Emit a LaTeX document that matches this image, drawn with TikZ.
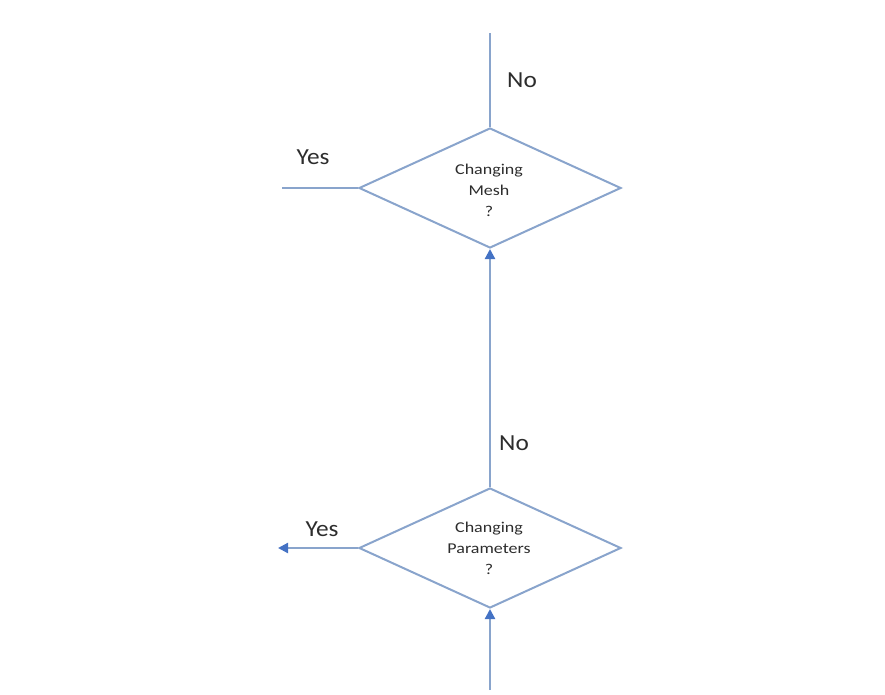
\documentclass[tikz,border=0pt]{standalone}
\usepackage{fontspec}
\setmainfont{Carlito}
\newfontfamily\dfont[FakeStretch=1.2]{Carlito}
\newfontfamily\lfont[FakeStretch=1.1]{Carlito}
\usetikzlibrary{shapes.geometric,arrows.meta}
\definecolor{lineblue}{RGB}{137,164,204}
\definecolor{tipblue}{RGB}{68,114,196}
\definecolor{txtgray}{RGB}{45,45,45}
\tikzset{
  conn/.style={draw=lineblue, line width=2.2pt},
  arr/.style={conn, -{Triangle[width=10pt,length=10pt,color=tipblue]}},
  decision/.style={diamond, draw=lineblue, line width=2pt, minimum width=262pt, minimum height=120pt, inner sep=0pt, aspect=2.2},
  dtext/.style={font=\dfont\fontsize{15}{21}\selectfont, text=txtgray, align=center},
  lbl/.style={font=\lfont\fontsize{23}{27}\selectfont, text=txtgray}
}
\begin{document}
\begin{tikzpicture}[x=1pt,y=-1pt]
\useasboundingbox (0,0) rectangle (885,695);
\node[decision] (mesh) at (490,188) {};
\node[dtext] (meshtxt) at (489,190) {Changing\\Mesh\\?};
\node[decision] (par) at (490,548) {};
\node[dtext] (partxt) at (489,548) {Changing\\Parameters\\?};
\coordinate (topend) at (490,33);
\coordinate (yes1) at (282,188);
\coordinate (yes2) at (278,548);
\coordinate (botend) at (490,690);
\draw[conn] (mesh.north) -- (topend);
\draw[conn] (mesh.west) -- (yes1);
\draw[arr] (par.north) -- (mesh.south);
\draw[arr] (par.west) -- (yes2);
\draw[arr] (botend) -- (par.south);
\node[lbl] (no1) at (522,80) {No};
\node[lbl] (yes1l) at (313,157) {Yes};
\node[lbl] (no2) at (514,443) {No};
\node[lbl] (yes2l) at (322,529) {Yes};
\end{tikzpicture}
\end{document}
